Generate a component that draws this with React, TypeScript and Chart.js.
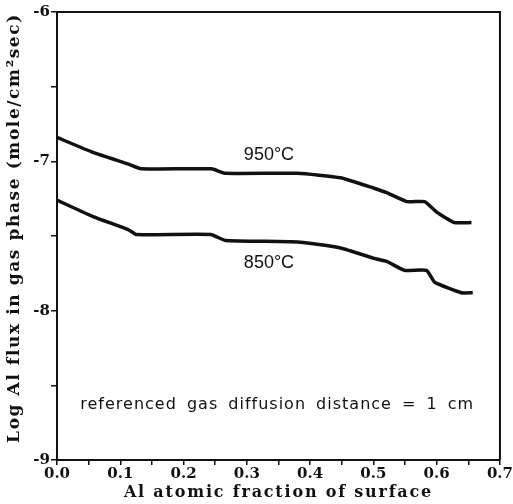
import React, { useEffect, useRef } from "react";
import { Chart, registerables } from "chart.js";

Chart.register(...registerables);

const x950 = [0, 0.057, 0.114, 0.133, 0.244, 0.266, 0.38, 0.448, 0.501, 0.521, 0.553, 0.581, 0.6, 0.628, 0.655];
const y950 = [-6.84, -6.94, -7.02, -7.05, -7.05, -7.08, -7.08, -7.11, -7.18, -7.21, -7.27, -7.27, -7.34, -7.41, -7.41];
const x850 = [0, 0.057, 0.114, 0.125, 0.243, 0.266, 0.38, 0.448, 0.501, 0.521, 0.549, 0.584, 0.597, 0.639, 0.657];
const y850 = [-7.26, -7.37, -7.46, -7.49, -7.49, -7.53, -7.54, -7.58, -7.65, -7.67, -7.73, -7.73, -7.81, -7.88, -7.88];

const seriesLabels = ["950°C", "850°C"];
const xTitle = "Al atomic fraction of surface";
const yTitle = "Log Al flux in gas phase (mole/cm²sec)";
const note = "referenced gas diffusion distance = 1 cm";

const labelPlugin = {
  id: "labels",
  afterDraw(chart: any) {
    const ctx = chart.ctx;
    const a = chart.chartArea;
    const xs = chart.scales.x;
    const ys = chart.scales.y;
    ctx.save();
    ctx.strokeStyle = "#111";
    ctx.lineWidth = 2;
    ctx.beginPath();
    ctx.moveTo(a.left, a.top);
    ctx.lineTo(a.right, a.top);
    ctx.lineTo(a.right, a.bottom);
    ctx.stroke();
    ctx.fillStyle = "#111";
    ctx.textAlign = "center";
    ctx.textBaseline = "middle";
    // series labels
    ctx.font = "18px 'Liberation Sans', Arial, sans-serif";
    ctx.fillText(seriesLabels[0], xs.getPixelForValue(0.335), ys.getPixelForValue(-6.96));
    ctx.fillText(seriesLabels[1], xs.getPixelForValue(0.335), ys.getPixelForValue(-7.68));
    // note
    ctx.font = "16px 'DejaVu Sans', sans-serif";
    (ctx as any).letterSpacing = "1px";
    (ctx as any).wordSpacing = "4px";
    ctx.fillText(note, xs.getPixelForValue(0.348), ys.getPixelForValue(-8.63));
    (ctx as any).wordSpacing = "0px";
    // axis titles
    ctx.font = "bold 16px 'DejaVu Serif', serif";
    (ctx as any).letterSpacing = "1.8px";
    ctx.fillText(xTitle, (a.left + a.right) / 2, 493);
    ctx.font = "bold 17px 'DejaVu Serif', serif";
    (ctx as any).letterSpacing = "1.6px";
    ctx.translate(15, (a.top + a.bottom) / 2 - 8);
    ctx.rotate(-Math.PI / 2);
    ctx.fillText(yTitle, 0, 0);
    ctx.restore();
  },
};

export default function App() {
  const ref = useRef<HTMLCanvasElement>(null);
  useEffect(() => {
    if (!ref.current) return;
    const mk = (xa: number[], ya: number[]) => xa.map((x, i) => ({ x, y: ya[i] }));
    const chart = new Chart(ref.current, {
      type: "scatter",
      data: {
        datasets: [
          { label: seriesLabels[0], data: mk(x950, y950), showLine: true, borderColor: "#111", borderWidth: 3.5, pointRadius: 0, tension: 0.15 },
          { label: seriesLabels[1], data: mk(x850, y850), showLine: true, borderColor: "#111", borderWidth: 3.5, pointRadius: 0, tension: 0.15 },
        ],
      },
      options: {
        animation: false,
        responsive: false,
        layout: { padding: { left: 0, right: 9, top: 12, bottom: 0 } },
        plugins: { legend: { display: false }, tooltip: { enabled: false } },
        scales: {
          x: {
            type: "linear",
            min: 0,
            max: 0.7,
            afterFit: (s: any) => { s.height = 44; },
            border: { color: "#111", width: 2 },
            grid: { drawOnChartArea: false, drawTicks: true, tickLength: 5, color: "#111", lineWidth: 1.5 },
            ticks: {
              stepSize: 0.05,
              autoSkip: false,
              maxRotation: 0,
              padding: 0,
              color: "#111",
              font: { family: "'DejaVu Serif', serif", size: 15, weight: "bold" },
              callback: (v: any) => {
                const n = Math.round(Number(v) * 100);
                return n % 10 === 0 ? (n / 100).toFixed(1) : "";
              },
            },
          },
          y: {
            type: "linear",
            min: -9,
            max: -6,
            afterFit: (s: any) => { s.width = 57; },
            border: { color: "#111", width: 2 },
            grid: { drawOnChartArea: false, drawTicks: true, tickLength: 6, color: "#111", lineWidth: 1.5 },
            ticks: {
              stepSize: 0.5,
              autoSkip: false,
              padding: 1,
              color: "#111",
              font: { family: "'DejaVu Serif', serif", size: 15, weight: "bold" },
              callback: (v: any) => {
                const n = Number(v);
                return Number.isInteger(n) ? "-" + String(Math.abs(n)) : "";
              },
            },
          },
        },
      },
      plugins: [labelPlugin],
    });
    return () => chart.destroy();
  }, []);
  return (
    <div style={{ position: "absolute", left: 0, top: 0, width: 513, height: 504, background: "#fff" }}>
      <canvas ref={ref} width={513} height={504} />
    </div>
  );
}
